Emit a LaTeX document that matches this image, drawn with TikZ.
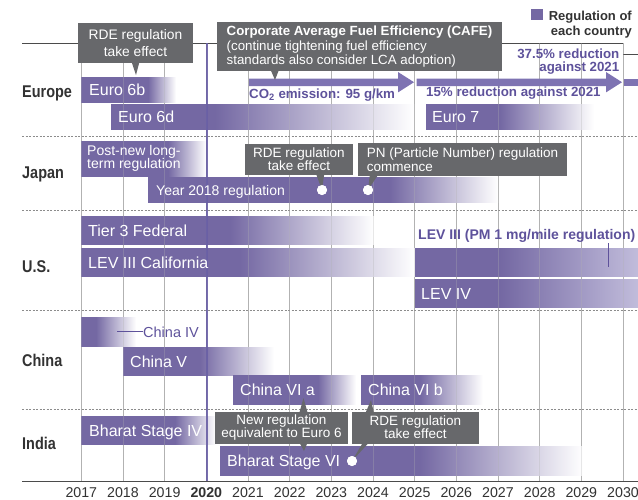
\documentclass[tikz,border=0pt]{standalone}
\usepackage{fontspec}
\usepackage{graphicx}
\setmainfont{Liberation Sans}
\usetikzlibrary{calc}
\definecolor{barc}{RGB}{116,104,163}
\definecolor{barl}{RGB}{193,188,219}
\definecolor{arrc}{RGB}{126,115,178}
\definecolor{ptxt}{RGB}{94,82,155}
\definecolor{boxc}{RGB}{103,104,107}
\definecolor{gridc}{RGB}{178,178,178}
\definecolor{dashc}{RGB}{140,140,140}
\definecolor{axisc}{RGB}{75,75,75}
\definecolor{linec}{RGB}{105,95,165}
\definecolor{labc}{RGB}{50,50,50}
\newcommand{\fsz}[1]{\fontsize{#1}{#1}\selectfont}
\newcommand{\fszb}[2]{\fontsize{#1}{#2}\selectfont}
\newcommand{\cond}[1]{\scalebox{0.85}[1]{#1}}
\newcounter{shc}
% bar: x0, solid end, x1, y0, y1, end colour
\newcommand{\gbar}[6]{%
  \stepcounter{shc}%
  \pgfmathsetmacro{\shst}{25+50*(#2-#1)/(#3-#1)}%
  \pgfdeclarehorizontalshading{bsh\theshc}{100bp}{color(0bp)=(barc); color(25bp)=(barc); color(\shst bp)=(barc); color(75bp)=(#6); color(100bp)=(#6)}%
  \shade[shading=bsh\theshc] (#1,#4) rectangle (#3,#5);}
\newcommand{\fbar}[5]{\gbar{#1}{#2}{#3}{#4}{#5}{white}}
\begin{document}
\begin{tikzpicture}[x=1pt,y=-1pt,
  barlab/.style={anchor=base west,inner sep=0,text=white,font=\fsz{16}},
  callout/.style={fill=boxc,text=white,inner sep=0,align=center},
  plab/.style={inner sep=0,text=ptxt,font=\bfseries\fsz{13.3}},
  rowlab/.style={anchor=base west,inner sep=0,text=labc,font=\bfseries\fsz{17}},
  yearlab/.style={anchor=base,inner sep=0,text=labc,font=\fsz{14.2}},
  wdot/.style={circle,fill=white,inner sep=0,minimum size=10},
  gridl/.style={gridc,line width=0.8},
  sepl/.style={dashc,line width=0.7,dash pattern=on 2pt off 1.5pt},
]
\useasboundingbox (0,0) rectangle (638,499);
% grid
\foreach \i in {0,...,13} {\draw[gridl] ({81.3+41.67*\i},43) -- ({81.3+41.67*\i},481);}
\foreach \y in {136,210,310.5,409} {\draw[sepl] (22,\y) -- (638,\y);}
\draw[axisc,line width=0.8] (22,43) -- (623,43);
\draw[axisc,line width=0.8] (623,54) -- (638,54);
\draw[axisc,line width=1] (22,481) -- (638,481);
% bars
\fbar{81}{148}{176}{77.5}{102.5}
\fbar{111}{215}{414}{104}{129}
\fbar{426}{500}{594}{104}{129}
\fbar{81}{168}{206}{141}{176}
\fbar{148}{390}{498}{177.5}{202.5}
\fbar{81}{230}{374}{216}{244.5}
\fbar{81}{240}{415}{248.5}{276.5}
\gbar{415}{500}{638}{248.5}{276.5}{barl}
\gbar{415}{500}{638}{279.5}{307.5}{barl}
\fbar{81}{96}{136}{317.5}{346}
\fbar{123}{200}{274}{347.5}{375.5}
\fbar{233}{318}{356}{375.5}{404.5}
\fbar{361}{420}{483}{375.5}{404.5}
\fbar{81}{175}{216}{416}{444.5}
\fbar{220}{420}{583}{446}{475}
% faint grid over bars
\foreach \i in {0,...,13} {\draw[gridl,opacity=0.3] ({81.3+41.67*\i},43) -- ({81.3+41.67*\i},481);}
% 2020 line
\draw[linec,line width=2.6,opacity=0.9] (206.8,43) -- (206.8,481);
% arrows
\fill[arrc] (249,78.5) -- (398,78.5) -- (398,72) -- (414,82.2) -- (398,92.4) -- (398,86) -- (249,86) -- cycle;
\fill[arrc] (416.7,78.5) -- (606,78.5) -- (606,72) -- (622,82.2) -- (606,92.4) -- (606,86) -- (416.7,86) -- cycle;
\fill[arrc] (624,78.5) rectangle (638,86);
% legend
\node[fill=barc,minimum size=11.5,inner sep=0] (legsq) at (537,14.7) {};
\node[anchor=base east,inner sep=0,text=labc,font=\bfseries\fsz{13},align=right] (leg1) at (632,20) {Regulation of};
\node[anchor=base east,inner sep=0,text=labc,font=\bfseries\fsz{13},align=right] (leg2) at (632,35) {each country};
% row labels
\node[rowlab] (eu) at (22,97.2) {\cond{Europe}};
\node[rowlab] (jp) at (22,178.5) {\cond{Japan}};
\node[rowlab] (us) at (22,272.7) {\cond{U.S.}};
\node[rowlab] (cn) at (22,366) {\cond{China}};
\node[rowlab] (in) at (22,449.5) {\cond{India}};
% years
\foreach \yr [count=\i from 0] in {2017,...,2030} {\node[yearlab] (yr\yr) at ({81.3+41.67*\i},497.2) {\ifnum\yr=2020 \bfseries\fi\yr};}
% bar labels
\node[barlab] (e6b) at (89,95.7) {Euro 6b};
\node[barlab] (e6d) at (118,122.7) {Euro 6d};
\node[barlab] (e7) at (432,122.7) {Euro 7};
\node[anchor=west,inner sep=0,text=white,font=\fszb{14}{13.3},align=left] (pnl) at (87,158.5) {Post-new long-\\term regulation};
\node[barlab,font=\fsz{14}] (y18) at (156,195) {Year 2018 regulation};
\node[barlab] (t3) at (88,236.2) {Tier 3 Federal};
\node[barlab] (lca) at (88,268.2) {LEV III California};
\node[barlab] (lev4) at (421,299.2) {LEV IV};
\node[barlab] (c5) at (130,367.2) {China V};
\node[barlab] (c6a) at (240,395.7) {China VI a};
\node[barlab] (c6b) at (368,395.7) {China VI b};
\node[barlab] (bs4) at (89,436.2) {Bharat Stage IV};
\node[barlab] (bs6) at (227,466.2) {Bharat Stage VI};
% purple labels
\node[plab,anchor=base west] (co2) at (249,98.3) {CO\textsubscript{2} emission: 95 g/km};
\node[plab,anchor=base west] (r15) at (426,96.7) {15\% reduction against 2021};
\node[plab,anchor=base east] (r37a) at (619.5,58.3) {37.5\% reduction};
\node[plab,anchor=base east] (r37b) at (619.5,71) {against 2021};
\node[plab,anchor=base west,font=\bfseries\fsz{14}] (lpm) at (418,239.3) {LEV III (PM 1 mg/mile regulation)};
\coordinate (pmtop) at (608,243);
\coordinate (pmbot) at (608,267);
\draw[ptxt,line width=1] (pmtop) -- (pmbot);
\node[anchor=base west,inner sep=0,text=ptxt,font=\fsz{14.5}] (c4) at (143,337.3) {China IV};
\coordinate (c4l) at (117,331.5);
\draw[ptxt,line width=0.8] (c4l) -- (c4.west |- c4l);
% callouts
\node[callout,minimum width=115,minimum height=39.5,font=\fszb{13.8}{16.7}] (rdeEU) at (135.5,42.8) {RDE regulation\\take effect};
\coordinate (tEU) at (136,75);
\fill[boxc] ($(rdeEU.south)+(-4,-1)$) -- ($(rdeEU.south)+(4,-1)$) -- (tEU) -- cycle;
\node[callout,align=left,minimum width=285,minimum height=48.7,font=\fszb{13.3}{14.5}] (cafe) at (359.5,46.7) {{\bfseries Corporate Average Fuel Efficiency (CAFE)}\\(continue tightening fuel efficiency\\standards also consider LCA adoption)};
\coordinate (tCA) at (275,80);
\fill[boxc] ($(cafe.south west)+(54,-1)$) -- ($(cafe.south west)+(62,-1)$) -- (tCA) -- cycle;
\node[wdot] (d1) at (322,190) {};
\node[wdot] (d2) at (368,190) {};
\node[wdot] (d3) at (352,461) {};
\node[callout,minimum width=108,minimum height=31,font=\fszb{13.5}{13}] (rdeJP) at (299,159.5) {RDE regulation\\take effect};
\fill[boxc] ($(rdeJP.south east)+(-37,-1)$) -- ($(rdeJP.south east)+(-29,-1)$) -- (d1.center) -- cycle;
\node[callout,align=left,minimum width=209,minimum height=33,font=\fszb{13.5}{14}] (pn) at (462.5,159.5) {PN (Particle Number) regulation\\commence};
\fill[boxc] ($(pn.south west)+(12,-1)$) -- ($(pn.south west)+(20,-1)$) -- (d2.center) -- cycle;
\node[callout,minimum width=133,minimum height=32,font=\fszb{13.5}{13.3}] (newreg) at (281.5,427.5) {New regulation\\equivalent to Euro 6};
\coordinate (tNu) at (303.5,398);
\coordinate (tNd) at (304,451);
\fill[boxc] ($(newreg.north)+(18,1)$) -- ($(newreg.north)+(26,1)$) -- (tNu) -- cycle;
\fill[boxc] ($(newreg.south)+(18,-1)$) -- ($(newreg.south)+(26,-1)$) -- (tNd) -- cycle;
\node[callout,minimum width=127,minimum height=32,font=\fszb{13.5}{13.3}] (rdeIN) at (415.5,427.5) {RDE regulation\\take effect};
\coordinate (tIu) at (371,400);
\fill[boxc] ($(rdeIN.north west)+(14,1)$) -- ($(rdeIN.north west)+(22,1)$) -- (tIu) -- cycle;
\fill[boxc] ($(rdeIN.south west)+(11,-1)$) -- ($(rdeIN.south west)+(17,-1)$) -- (d3.center) -- cycle;
% redraw dots on top
\node[wdot] at (d1) {};
\node[wdot] at (d2) {};
\node[wdot] at (d3) {};
\end{tikzpicture}
\end{document}
